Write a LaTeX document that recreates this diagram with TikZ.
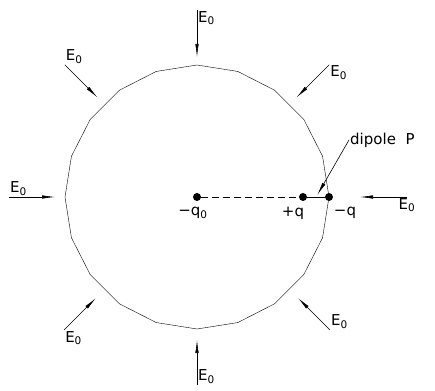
\documentclass[tikz,border=0pt]{standalone}
\usepackage{fontspec}
\setmainfont{DejaVu Sans}
\usetikzlibrary{arrows.meta,calc,positioning}
\tikzset{
  field/.style={-{Latex[length=13pt,width=3.5pt]},semithick},
  charge/.style={circle,fill,inner sep=0pt,minimum size=8pt},
  lbl/.style={font=\fontsize{15}{15}\selectfont,inner sep=1pt},
}

\begin{document}
\begin{tikzpicture}[x=1pt,y=1pt,>=Stealth]
  \useasboundingbox (0,0) rectangle (435,390);
  \coordinate (o) at (197,193);
  % sphere, drawn as a 20-gon
  \draw[shift={(o)}] (90:132) \foreach \k in {1,...,19} {-- ({90-18*\k}:132)} -- cycle;
  % uniform field arrows
  \foreach \a/\ro/\ri/\anc in {90/187/140/north west, 45/187/141/north west,
      135/187/141/south west, 180/188/142/south west, 0/210/163/north,
      225/188/143/north west, 270/188/143/south west, 315/188/143/south west} {
    \coordinate (s) at ($(o)+(\a:\ro)$);
    \draw[field] (s) -- ($(o)+(\a:\ri)$);
    \node[lbl,anchor=\anc] at (s) {E\textsubscript{0}};
  }
  % charges
  \node[charge] (q0) at (o) {};
  \node[charge] (qp) at ($(o)+(106,0)$) {};
  \node[charge] (qm) at ($(o)+(132,0)$) {};
  \draw[dash pattern=on 7pt off 4pt,semithick] (q0) -- (qp);
  \draw[semithick] (qp) -- (qm);
  \node[lbl,below=5pt of q0,xshift=-4pt] {−q\textsubscript{0}};
  \node[lbl,below=5pt of qp,xshift=-10pt] {+q};
  \node[lbl,below=5pt of qm,xshift=16pt] {−q};
  % dipole label
  \coordinate (tip) at ($(qp)!0.55!(qm)+(0,2)$);
  \node[lbl,anchor=west] (dip) at (349,250) {dipole\ \ P};
  \draw[field] (dip.west) -- (tip);
\end{tikzpicture}
\end{document}
